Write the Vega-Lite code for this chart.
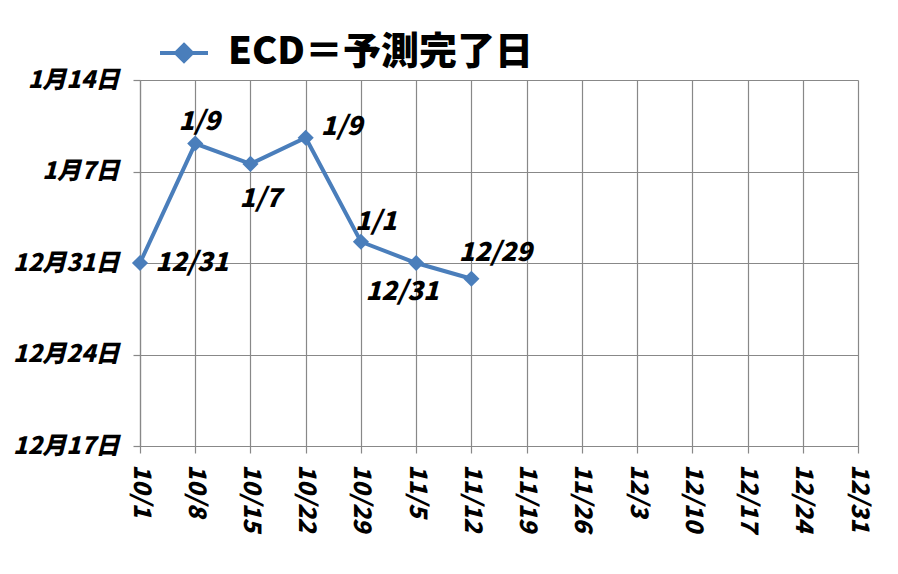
{
  "$schema": "https://vega.github.io/schema/vega-lite/v6.json",
  "autosize": "none",
  "width": 718,
  "height": 366,
  "padding": {"left": 140, "top": 80, "right": 40, "bottom": 128},
  "background": "white",
  "config": {
    "view": {"stroke": null},
    "font": "Noto Sans CJK JP",
    "axis": {
      "gridColor": "#888888",
      "gridWidth": 1.2,
      "domainColor": "#888888",
      "domainWidth": 1.2,
      "tickColor": "#888888",
      "tickWidth": 1.2,
      "tickSize": 7,
      "labelFont": "Noto Sans CJK JP",
      "labelFontWeight": 900,
      "labelFontStyle": "italic",
      "labelFontSize": 24,
      "labelColor": "#000000",
      "title": null
    }
  },
  "data": {
    "values": [
      {"week": "2017-10-01", "ecd": "2017-12-31T00:00:00Z", "label": "12/31", "series": "ECD＝予測完了日"},
      {"week": "2017-10-08", "ecd": "2018-01-09T03:20:00Z", "label": "1/9", "series": "ECD＝予測完了日"},
      {"week": "2017-10-15", "ecd": "2018-01-07T14:00:00Z", "label": "1/7", "series": "ECD＝予測完了日"},
      {"week": "2017-10-22", "ecd": "2018-01-09T14:00:00Z", "label": "1/9", "series": "ECD＝予測完了日"},
      {"week": "2017-10-29", "ecd": "2018-01-01T15:00:00Z", "label": "1/1", "series": "ECD＝予測完了日"},
      {"week": "2017-11-05", "ecd": "2017-12-31T00:00:00Z", "label": "12/31", "series": "ECD＝予測完了日"},
      {"week": "2017-11-12", "ecd": "2017-12-29T19:00:00Z", "label": "12/29", "series": "ECD＝予測完了日"}
    ]
  },
  "encoding": {
    "x": {
      "field": "week",
      "type": "temporal",
      "scale": {
        "type": "utc",
        "domain": [
          {"year": 2017, "month": 10, "date": 1, "utc": true},
          {"year": 2017, "month": 12, "date": 31, "utc": true}
        ]
      },
      "axis": {
        "grid": true,
        "format": "%-m/%-d",
        "labelAngle": 90,
        "labelAlign": "left",
        "labelBaseline": "middle",
        "labelPadding": 11,
        "values": [
          {"year": 2017, "month": 10, "date": 1, "utc": true},
          {"year": 2017, "month": 10, "date": 8, "utc": true},
          {"year": 2017, "month": 10, "date": 15, "utc": true},
          {"year": 2017, "month": 10, "date": 22, "utc": true},
          {"year": 2017, "month": 10, "date": 29, "utc": true},
          {"year": 2017, "month": 11, "date": 5, "utc": true},
          {"year": 2017, "month": 11, "date": 12, "utc": true},
          {"year": 2017, "month": 11, "date": 19, "utc": true},
          {"year": 2017, "month": 11, "date": 26, "utc": true},
          {"year": 2017, "month": 12, "date": 3, "utc": true},
          {"year": 2017, "month": 12, "date": 10, "utc": true},
          {"year": 2017, "month": 12, "date": 17, "utc": true},
          {"year": 2017, "month": 12, "date": 24, "utc": true},
          {"year": 2017, "month": 12, "date": 31, "utc": true}
        ]
      }
    },
    "y": {
      "field": "ecd",
      "type": "temporal",
      "scale": {
        "type": "utc",
        "domain": [
          {"year": 2017, "month": 12, "date": 17, "utc": true},
          {"year": 2018, "month": 1, "date": 14, "utc": true}
        ]
      },
      "axis": {
        "grid": true,
        "format": "%-m月%-d日",
        "labelPadding": 14,
        "values": [
          {"year": 2017, "month": 12, "date": 17, "utc": true},
          {"year": 2017, "month": 12, "date": 24, "utc": true},
          {"year": 2017, "month": 12, "date": 31, "utc": true},
          {"year": 2018, "month": 1, "date": 7, "utc": true},
          {"year": 2018, "month": 1, "date": 14, "utc": true}
        ]
      }
    }
  },
  "layer": [
    {
      "mark": {"type": "line", "color": "#4A7EBB", "strokeWidth": 4},
      "encoding": {}
    },
    {
      "mark": {"type": "point", "shape": "diamond", "filled": true, "size": 260, "opacity": 1},
      "encoding": {
        "color": {
          "field": "series",
          "type": "nominal",
          "scale": {"range": ["#4A7EBB"]},
          "legend": {
            "orient": "none",
            "legendX": 25,
            "legendY": -46,
            "padding": 0,
            "title": null,
            "symbolType": "M-1.5,0H1.5M0,-0.5L0.5,0L0,0.5L-0.5,0Z",
            "symbolSize": 1024,
            "symbolStrokeWidth": 4,
            "symbolStrokeColor": "#4A7EBB",
            "symbolFillColor": "#4A7EBB",
            "labelFont": "Noto Sans CJK JP",
            "labelFontSize": 38,
            "labelFontWeight": 900,
            "labelColor": "#000000",
            "labelOffset": 25,
            "labelLimit": 600
          }
        }
      }
    },
    {
      "transform": [{"filter": "utcmonth(datum.week)==9 && utcdate(datum.week)==1"}],
      "mark": {"type": "text", "font": "Noto Sans CJK JP", "fontWeight": 900, "fontStyle": "italic", "fontSize": 26, "dx": 52, "dy": 0},
      "encoding": {"text": {"field": "label"}}
    },
    {
      "transform": [{"filter": "utcmonth(datum.week)==9 && utcdate(datum.week)==8"}],
      "mark": {"type": "text", "font": "Noto Sans CJK JP", "fontWeight": 900, "fontStyle": "italic", "fontSize": 26, "dx": 4, "dy": -22},
      "encoding": {"text": {"field": "label"}}
    },
    {
      "transform": [{"filter": "utcmonth(datum.week)==9 && utcdate(datum.week)==15"}],
      "mark": {"type": "text", "font": "Noto Sans CJK JP", "fontWeight": 900, "fontStyle": "italic", "fontSize": 26, "dx": 10, "dy": 35},
      "encoding": {"text": {"field": "label"}}
    },
    {
      "transform": [{"filter": "utcmonth(datum.week)==9 && utcdate(datum.week)==22"}],
      "mark": {"type": "text", "font": "Noto Sans CJK JP", "fontWeight": 900, "fontStyle": "italic", "fontSize": 26, "dx": 36, "dy": -11},
      "encoding": {"text": {"field": "label"}}
    },
    {
      "transform": [{"filter": "utcmonth(datum.week)==9 && utcdate(datum.week)==29"}],
      "mark": {"type": "text", "font": "Noto Sans CJK JP", "fontWeight": 900, "fontStyle": "italic", "fontSize": 26, "dx": 15, "dy": -20},
      "encoding": {"text": {"field": "label"}}
    },
    {
      "transform": [{"filter": "utcmonth(datum.week)==10 && utcdate(datum.week)==5"}],
      "mark": {"type": "text", "font": "Noto Sans CJK JP", "fontWeight": 900, "fontStyle": "italic", "fontSize": 26, "dx": -14, "dy": 29},
      "encoding": {"text": {"field": "label"}}
    },
    {
      "transform": [{"filter": "utcmonth(datum.week)==10 && utcdate(datum.week)==12"}],
      "mark": {"type": "text", "font": "Noto Sans CJK JP", "fontWeight": 900, "fontStyle": "italic", "fontSize": 26, "dx": 24, "dy": -26},
      "encoding": {"text": {"field": "label"}}
    }
  ]
}
